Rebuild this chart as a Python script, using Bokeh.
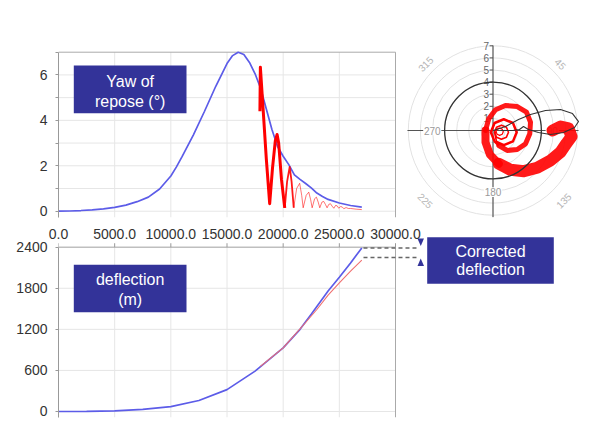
from bokeh.plotting import figure
from bokeh.models import (Range1d, FixedTicker, PrintfTickFormatter,
                          BoxAnnotation, Label)
from bokeh.layouts import column
from bokeh.embed import file_html
from bokeh.resources import INLINE
from bokeh.core.properties import value

FONT = "Liberation Sans"
NAVY = "#333399"
BLUE = "#5c5ce8"
RED = "#ff0000"
GRID = "#e6e6e6"
BORDER = "#aaaaaa"
AXIS = "#999999"

# ---------------- data ----------------
x_ticks = [0, 5000, 10000, 15000, 20000, 25000, 30000]
yaw_ticks = [0, 2, 4, 6]
yaw_minor = [1, 3, 5, 7]
defl_ticks = [0, 600, 1200, 1800, 2400]

# yaw of repose (deg) vs range (m)
yaw_range = [0, 1000, 2000, 3000, 4000, 5000, 6000, 7000, 8000, 9000, 10000, 10500,
             11000, 12000, 13000, 14000, 15000, 15500, 16000, 16500, 17000, 17500,
             18000, 18500, 19000, 19500, 20000, 20500, 21000, 21500, 22000, 22500,
             23000, 23500, 24000, 25000, 26000, 27000]
yaw_repose = [0, 0.01, 0.03, 0.06, 0.1, 0.17, 0.27, 0.42, 0.62, 0.98, 1.55, 1.95,
              2.4, 3.35, 4.4, 5.5, 6.5, 6.85, 7.0, 6.9, 6.55, 6.05,
              5.4, 4.5, 3.6, 2.85, 2.42, 2.05, 1.6, 1.4, 1.22, 1.03,
              0.8, 0.65, 0.52, 0.36, 0.25, 0.18]

# corrected (oscillating) yaw
yaw_red_range = [17930, 17970, 18200, 18500, 18800, 19050, 19300, 19460, 19600, 19850,
                 20140, 20350, 20580, 20750, 20940, 21200, 21470, 21650, 21780, 22050,
                 22280, 22450, 22580, 22800, 22960, 23120, 23260, 23450, 23610, 23760,
                 23910, 24060, 24210, 24360, 24510, 24660, 24800, 24950, 25100, 25250,
                 25400, 25600, 25800, 26000, 26500, 27000]
yaw_red = [4.4, 6.34, 4.6, 2.3, 0.33, 1.9, 3.1, 3.38, 3.0, 1.4,
           0.15, 1.3, 1.95, 1.3, 0.15, 1.0, 1.23, 0.7, 0.15, 0.7,
           0.84, 0.5, 0.15, 0.55, 0.62, 0.4, 0.15, 0.4, 0.43, 0.3,
           0.15, 0.3, 0.33, 0.22, 0.13, 0.25, 0.24, 0.13, 0.2, 0.19,
           0.11, 0.16, 0.12, 0.12, 0.09, 0.07]

# deflection (m) vs range (m)
defl_range = [0, 2500, 5000, 7500, 10000, 12500, 15000, 17500, 20000, 21500, 22500,
              24000, 25000, 26000, 27000]
defl_blue = [0, 2, 10, 30, 70, 160, 320, 590, 930, 1200, 1420, 1760, 1960, 2170, 2390]
defl_red_range = [17970, 20000, 22000, 23000, 24000, 25000, 26000, 27000]
defl_red = [660, 930, 1300, 1490, 1700, 1880, 2050, 2210]

# polar plot (yaw components, deg)
ring_radii = [1, 2, 3, 4, 5, 6, 7]
diag_labels = ["315", "45", "225", "135"]
card_labels = ["270", "180", "90"]

spiral_outer_h = [4.92, 5.58, 6.24, 6.49, 6.07, 5.58, 4.75, 3.65, 2.55, 1.45, 0.48]
spiral_outer_v = [0.0, 0.33, 0.17, -0.50, -1.07, -1.79, -2.48, -3.08, -3.36, -3.25, -2.75]
spiral_left_h = [0.48, -0.26, -0.62, -0.62]
spiral_left_v = [-2.75, -1.98, -0.97, 0.0]
spiral_mid_h = [-0.62, -0.35, 0.21, 1.03, 2.0, 2.77, 3.10, 3.04, 2.69, 2.0, 1.17, 0.48]
spiral_mid_v = [0.0, 0.97, 1.71, 2.07, 1.98, 1.51, 0.69, -0.27, -1.10, -1.57, -1.65, -1.24]
spiral_a_h = [0.48, 0.13, -0.18, 0.13, 0.89, 1.65, 1.96, 1.65, 0.89, 0.30]
spiral_a_v = [-1.24, -0.90, -0.14, 0.62, 0.93, 0.62, -0.14, -0.90, -1.21, -0.95]
spiral_b_h = [0.30, 0.12, 0.29, 0.70, 1.11, 1.28, 1.11, 0.70, 0.29, 0.15]
spiral_b_v = [-0.95, -0.14, 0.27, 0.44, 0.27, -0.14, -0.55, -0.72, -0.55, -0.20]
spiral_c_h = [0.15, 0.25, 0.34, 0.55, 0.76, 0.85, 0.76, 0.55, 0.34, 0.25]
spiral_c_v = [-0.20, -0.10, 0.11, 0.20, 0.11, -0.10, -0.31, -0.40, -0.31, -0.10]

loop_h = [0.04, 1.03, 2.11, 3.10, 4.34, 5.58, 6.57, 7.07, 6.74, 5.83, 4.75, 3.76,
          2.93, 2.52, 2.19, 1.61, 0.62]
loop_v = [0.0, 0.33, 0.91, 1.32, 1.65, 1.74, 1.40, 0.74, 0.25, -0.17, -0.33, -0.17,
          0.08, 0.33, 0.08, 0.0, 0.0]


def style_axis(ax, standoff):
    ax.axis_line_color = AXIS
    ax.major_tick_line_color = AXIS
    ax.minor_tick_line_color = AXIS
    ax.major_tick_in = 0
    ax.major_tick_out = 3
    ax.minor_tick_in = 0
    ax.minor_tick_out = 3
    ax.major_label_text_font = FONT
    ax.major_label_text_font_size = "14px"
    ax.major_label_text_color = "#333333"
    ax.major_label_standoff = standoff


def navy_box(p, left, right, bottom, top, lines, xs, ys, size):
    p.add_layout(BoxAnnotation(left=left, right=right, bottom=bottom, top=top,
                               fill_color=NAVY, fill_alpha=1.0, line_color=None))
    for t, y in zip(lines, ys):
        p.add_layout(Label(x=xs, y=y, text=t, text_align="center", text_baseline="middle",
                           text_color="white", text_font=FONT, text_font_size=size))


X_END = 30000 * 532 / 337   # frame runs on to the right edge of the page

# ---------------- top chart: yaw of repose (+ polar inset) ----------------
Y0_TOP, Y1_TOP = -0.277, 7.515
top = figure(width=590, height=222, output_backend="svg", toolbar_location=None,
             x_range=Range1d(0, X_END), y_range=Range1d(Y0_TOP, Y1_TOP),
             x_axis_location=None, min_border_left=58, min_border_right=0,
             min_border_top=40, min_border_bottom=5, outline_line_color=None)
top.grid.visible = False
top.yaxis.ticker = FixedTicker(ticks=yaw_ticks, minor_ticks=yaw_minor)
top.yaxis.bounds = (Y0_TOP, 7)
style_axis(top.yaxis[0], 8)

grid_levels = sorted(yaw_ticks + yaw_minor[:-1])
top.segment(x0=[0] * len(grid_levels), y0=grid_levels, x1=[30000] * len(grid_levels),
            y1=grid_levels, line_color=GRID, line_width=1)
top.segment(x0=x_ticks[1:-1], y0=[Y0_TOP] * 5, x1=x_ticks[1:-1], y1=[7] * 5,
            line_color=GRID, line_width=1)
top.segment(x0=[0, 30000], y0=[7, Y0_TOP], x1=[30000, 30000], y1=[7, 7],
            line_color=BORDER, line_width=1)

top.line(yaw_range, yaw_repose, line_color=BLUE, line_width=1.7)
top.line(yaw_red_range[:11], yaw_red[:11], line_color=RED, line_width=3, line_join="round")
top.line(yaw_red_range[10:15], yaw_red[10:15], line_color=RED, line_width=1.8,
         line_alpha=0.9, line_join="round")
top.line(yaw_red_range[14:], yaw_red[14:], line_color=RED, line_width=1,
         line_alpha=0.55, line_join="round")
navy_box(top, 1362, 11395, 4.31, 6.41, ["Yaw of", "repose (\u00b0)"], 6378, [5.72, 4.81], "16px")

# polar inset drawn on its own ranges
top.extra_x_ranges = {"px": Range1d(-35.909, 8.058)}
top.extra_y_ranges = {"py": Range1d(-7.190, 7.438)}
P = dict(x_range_name="px", y_range_name="py")
n = len(ring_radii)
top.circle(x=[0] * n, y=[0] * n, radius=ring_radii, fill_color=None,
           line_color="#e2e2e2", line_width=1, **P)
top.segment(x0=[-7.07, 0], y0=[0, -7.17], x1=[7.07, 0], y1=[0, 7.02],
            line_color="#555555", line_width=1.2, **P)
top.segment(x0=[-0.28] * n, y0=ring_radii, x1=[0] * n, y1=ring_radii,
            line_color="#555555", line_width=1, **P)
top.text(x=[-0.32] * n, y=ring_radii, text=[str(r) for r in ring_radii],
         text_align="right", text_baseline="middle", text_font=value(FONT),
         text_font_size=value("10px"), text_color="#666666", **P)
top.text(x=[-5.58, 5.58, -5.58, 5.83], y=[5.51, 5.51, -5.79, -5.79], text=diag_labels,
         angle=[45, -45, -45, 45], angle_units="deg", text_align="center",
         text_baseline="middle", text_font=value(FONT), text_font_size=value("10px"),
         text_color="#b5b5b5", **P)
top.rect(x=[-5.02, 0, 4.9], y=[0, -5.1, 0], width=[1.5, 1.5, 1.1], height=[0.8, 0.8, 0.8],
         fill_color="white", line_color=None, **P)
top.text(x=[-5.02, 0, 4.9], y=[0, -5.1, 0], text=card_labels, text_align="center",
         text_baseline="middle", text_font=value(FONT), text_font_size=value("10px"),
         text_color="#999999", **P)
top.line(spiral_outer_h, spiral_outer_v, line_color=RED, line_width=12, line_alpha=0.9,
         line_join="round", line_cap="round", **P)
top.line(spiral_left_h, spiral_left_v, line_color=RED, line_width=8, line_alpha=0.9,
         line_join="round", line_cap="round", **P)
top.line(spiral_mid_h, spiral_mid_v, line_color=RED, line_width=5, line_alpha=0.9,
         line_join="round", line_cap="round", **P)
top.line(spiral_a_h, spiral_a_v, line_color=RED, line_width=2.5, line_join="round", **P)
top.line(spiral_b_h, spiral_b_v, line_color=RED, line_width=1.6, line_join="round", **P)
top.line(spiral_c_h, spiral_c_v, line_color=RED, line_width=1.2, line_join="round", **P)
top.circle(x=[0], y=[0], radius=[4], fill_color=None, line_color="#333333",
           line_width=1.3, **P)
top.line(loop_h, loop_v, line_color="#333333", line_width=1.1, **P)

# ---------------- bottom chart: deflection ----------------
Y0_BOT, Y1_BOT = -87.7, 2585.5
bot = figure(width=590, height=198, output_backend="svg", toolbar_location=None,
             x_range=Range1d(0, X_END), y_range=Range1d(Y0_BOT, Y1_BOT),
             x_axis_location="above", min_border_left=58, min_border_right=0,
             min_border_top=12, min_border_bottom=3, outline_line_color=None)
bot.grid.visible = False
bot.xaxis.ticker = FixedTicker(ticks=x_ticks)
bot.xaxis.formatter = PrintfTickFormatter(format="%.1f")
style_axis(bot.xaxis[0], -4)
bot.xaxis.axis_line_color = None
bot.xaxis.major_tick_line_color = None
bot.xaxis.major_tick_out = 0
bot.yaxis.ticker = FixedTicker(ticks=defl_ticks)
bot.yaxis.bounds = (Y0_BOT, 2400)
style_axis(bot.yaxis[0], 8)

nd = len(defl_ticks)
bot.segment(x0=[0] * nd, y0=defl_ticks, x1=[30000] * nd, y1=defl_ticks,
            line_color=GRID, line_width=1)
bot.segment(x0=x_ticks[1:-1], y0=[Y0_BOT] * 5, x1=x_ticks[1:-1], y1=[2400] * 5,
            line_color=GRID, line_width=1)
bot.segment(x0=[0, 30000], y0=[2400, Y0_BOT], x1=[30000, 30000], y1=[2400, 2400],
            line_color=BORDER, line_width=1)
bot.segment(x0=x_ticks, y0=[2400] * len(x_ticks), x1=x_ticks, y1=[2458] * len(x_ticks),
            line_color=AXIS, line_width=1)

bot.line(defl_range, defl_blue, line_color=BLUE, line_width=1.7)
bot.line(defl_red_range, defl_red, line_color="#f07070", line_width=1.1)

bot.segment(x0=[27150, 27150], y0=[2388, 2249], x1=[31958, 31958], y1=[2388, 2249],
            line_color="#666666", line_width=1.5, line_dash="4 3")
bot.patches(xs=[[31958, 32537, 32247], [31958, 32537, 32247]],
            ys=[[2527, 2527, 2417], [2125, 2125, 2235]],
            fill_color=NAVY, line_color=None)
navy_box(bot, 1362, 11395, 1450, 2143, ["deflection", "(m)"], 6378, [1924, 1632], "16px")
navy_box(bot, 32822, 44092, 1865, 2546, ["Corrected", "deflection"], 38460, [2337, 2070], "16px")

layout = column(top, bot)
open("out.html", "w").write(file_html(layout, INLINE))
